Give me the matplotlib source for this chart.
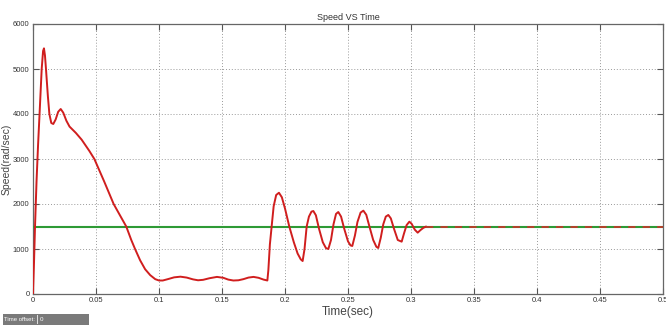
import matplotlib
matplotlib.use("Agg")
import matplotlib.pyplot as plt
from matplotlib.patches import Rectangle

# Data
time_s = [0.0000, 0.0008, 0.0016, 0.0028, 0.0040, 0.0052, 0.0069, 0.0080, 0.0087,
          0.0095, 0.0103, 0.0118, 0.0130, 0.0145, 0.0161, 0.0180, 0.0200, 0.0220,
          0.0240, 0.0265, 0.0290, 0.0340, 0.0386, 0.0447, 0.0487, 0.0565, 0.0640,
          0.0690, 0.0740, 0.0780, 0.0810, 0.0850, 0.0890, 0.0930, 0.0970, 0.1000,
          0.1030, 0.1070, 0.1120, 0.1170, 0.1220, 0.1270, 0.1310, 0.1350, 0.1400,
          0.1460, 0.1510, 0.1550, 0.1590, 0.1630, 0.1670, 0.1710, 0.1750, 0.1790,
          0.1830, 0.1860, 0.1868, 0.1880, 0.1894, 0.1910, 0.1930, 0.1952, 0.1975,
          0.2000, 0.2034, 0.2070, 0.2100, 0.2125, 0.2140, 0.2155, 0.2172, 0.2190,
          0.2210, 0.2225, 0.2245, 0.2270, 0.2300, 0.2325, 0.2344, 0.2365, 0.2385,
          0.2405, 0.2423, 0.2445, 0.2470, 0.2500, 0.2520, 0.2534, 0.2555, 0.2575,
          0.2600, 0.2622, 0.2645, 0.2670, 0.2700, 0.2725, 0.2740, 0.2760, 0.2780,
          0.2800, 0.2820, 0.2840, 0.2865, 0.2895, 0.2926, 0.2945, 0.2965, 0.2987,
          0.3005, 0.3030, 0.3053, 0.3075, 0.3098, 0.3120]
speed = [0, 700, 1500, 2500, 3300, 4000, 5000, 5400, 5459,
         5300, 5000, 4400, 4000, 3800, 3778, 3880, 4050, 4111,
         4030, 3850, 3720, 3580, 3430, 3180, 3000, 2500, 2000,
         1750, 1500, 1200, 1000, 750, 550, 420, 330, 300,
         300, 330, 370, 385, 365, 325, 305, 315, 350,
         380, 360, 320, 300, 305, 330, 365, 380, 360,
         320, 300, 533, 1100, 1500, 1950, 2200, 2250, 2150,
         1900, 1500, 1150, 900, 770, 733, 1000, 1500, 1720,
         1830, 1844, 1750, 1450, 1150, 1020, 1000, 1200, 1550,
         1780, 1822, 1720, 1450, 1170, 1080, 1067, 1300, 1600,
         1810, 1852, 1760, 1500, 1200, 1050, 1022, 1250, 1550,
         1720, 1756, 1680, 1450, 1200, 1163, 1350, 1530, 1607,
         1560, 1430, 1363, 1420, 1470, 1500]
steady_t = [0.312, 0.5]
steady_speed = [1500, 1500]
reference_speed = 1500
x_ticks = [0, 0.05, 0.1, 0.15, 0.2, 0.25, 0.3, 0.35, 0.4, 0.45, 0.5]
x_labels = ["0", "0.05", "0.1", "0.15", "0.2", "0.25", "0.3", "0.35", "0.4", "0.45", "0.5"]
y_ticks = [0, 1000, 2000, 3000, 4000, 5000, 6000]

plt.rcParams['font.family'] = ['Liberation Sans Narrow', 'Liberation Sans', 'DejaVu Sans']

fig = plt.figure(figsize=(6.66, 3.27), dpi=100)
ax = fig.add_axes([33/666, 1-294/327, 630/666, 270/327])

ax.axhline(reference_speed, color="#2e9a35", lw=1.5, zorder=3)
ax.plot(time_s, speed, color="#d01e1e", lw=1.4, zorder=4,
        solid_joinstyle="round", solid_capstyle="round")
ax.plot(steady_t, steady_speed, color="#c03a2a", lw=1.3, ls=(0, (4, 4)), zorder=5)

ax.set_xlim(0, 0.5)
ax.set_ylim(0, 6000)
ax.set_xticks(x_ticks)
ax.set_xticklabels(x_labels)
ax.set_yticks(y_ticks)
ax.grid(True, color="#9a9a9a", ls=(0, (1, 2)), lw=0.7)
ax.tick_params(direction="in", length=4, width=0.8, colors="#555555",
               labelsize=5.5, labelcolor="#333333", top=True, right=True, pad=2.5)
for s in ax.spines.values():
    s.set_color("#666666")
    s.set_linewidth(0.9)

ax.set_title("Speed VS Time", fontsize=6.5, color="#333333", pad=3)
ax.set_xlabel("Time(sec)", fontsize=8.5, color="#444444", labelpad=1)
ax.set_ylabel("Speed(rad/sec)", fontsize=7.5, color="#444444")
ax.yaxis.set_label_coords(-21/630, 0.5)

# "Time offset" box
fig.patches.append(Rectangle((3/666, 1-325/327), 86/666, 11/327,
                             transform=fig.transFigure, facecolor="#7a7a7a",
                             edgecolor="none"))
fig.patches.append(Rectangle((37/666, 1-324/327), 1/666, 9/327,
                             transform=fig.transFigure, facecolor="#dddddd",
                             edgecolor="none"))
fig.text(4/666, 1-319.5/327, "Time offset:", fontsize=4.3, color="white", va="center")
fig.text(40/666, 1-319.5/327, "0", fontsize=4.5, color="white", va="center")

fig.savefig("out.png", dpi=100)
